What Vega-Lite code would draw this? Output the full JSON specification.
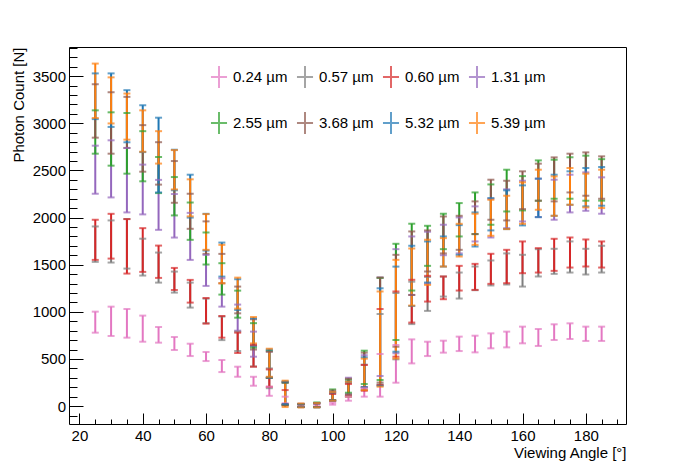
{
  "$schema": "https://vega.github.io/schema/vega-lite/v6.json",
  "width": 557,
  "height": 377,
  "autosize": {"type": "none"},
  "padding": {"left": 69, "top": 47, "right": 70, "bottom": 48},
  "background": "white",
  "config": {
    "view": {"stroke": "black", "strokeWidth": 1},
    "font": "Liberation Sans",
    "axis": {"grid": false, "domain": false, "tickColor": "black", "labelColor": "black", "titleColor": "black", "labelFont": "Liberation Sans", "titleFont": "Liberation Sans", "titleFontWeight": "normal", "tickWidth": 1}
  },
  "data": {
    "values": [
      {"a":25,"s":"0.24 µm","lo":779,"hi":1002},{"a":30,"s":"0.24 µm","lo":744,"hi":1055},{"a":35,"s":"0.24 µm","lo":726,"hi":1030},{"a":40,"s":"0.24 µm","lo":683,"hi":960},{"a":45,"s":"0.24 µm","lo":673,"hi":839},{"a":50,"s":"0.24 µm","lo":595,"hi":733},{"a":55,"s":"0.24 µm","lo":531,"hi":662},{"a":60,"s":"0.24 µm","lo":478,"hi":574},{"a":65,"s":"0.24 µm","lo":361,"hi":489},{"a":70,"s":"0.24 µm","lo":311,"hi":418},{"a":75,"s":"0.24 µm","lo":216,"hi":311},{"a":80,"s":"0.24 µm","lo":109,"hi":205},{"a":85,"s":"0.24 µm","lo":30,"hi":100},{"a":90,"s":"0.24 µm","lo":-5,"hi":10},{"a":95,"s":"0.24 µm","lo":-5,"hi":15},{"a":100,"s":"0.24 µm","lo":15,"hi":35},{"a":105,"s":"0.24 µm","lo":57,"hi":100},{"a":110,"s":"0.24 µm","lo":100,"hi":190},{"a":115,"s":"0.24 µm","lo":100,"hi":553},{"a":120,"s":"0.24 µm","lo":248,"hi":648},{"a":125,"s":"0.24 µm","lo":453,"hi":708},{"a":130,"s":"0.24 µm","lo":531,"hi":683},{"a":135,"s":"0.24 µm","lo":567,"hi":694},{"a":140,"s":"0.24 µm","lo":584,"hi":737},{"a":145,"s":"0.24 µm","lo":570,"hi":747},{"a":150,"s":"0.24 µm","lo":613,"hi":772},{"a":155,"s":"0.24 µm","lo":623,"hi":790},{"a":160,"s":"0.24 µm","lo":666,"hi":843},{"a":165,"s":"0.24 µm","lo":638,"hi":818},{"a":170,"s":"0.24 µm","lo":701,"hi":868},{"a":175,"s":"0.24 µm","lo":712,"hi":878},{"a":180,"s":"0.24 µm","lo":691,"hi":843},{"a":185,"s":"0.24 µm","lo":691,"hi":843},

      {"a":25,"s":"0.57 µm","lo":1530,"hi":1906},{"a":30,"s":"0.57 µm","lo":1523,"hi":1970},{"a":35,"s":"0.57 µm","lo":1459,"hi":1985},{"a":40,"s":"0.57 µm","lo":1385,"hi":1776},{"a":45,"s":"0.57 µm","lo":1310,"hi":1629},{"a":50,"s":"0.57 µm","lo":1204,"hi":1427},{"a":55,"s":"0.57 µm","lo":1045,"hi":1310},{"a":60,"s":"0.57 µm","lo":880,"hi":1140},{"a":65,"s":"0.57 µm","lo":700,"hi":950},{"a":70,"s":"0.57 µm","lo":584,"hi":790},{"a":75,"s":"0.57 µm","lo":420,"hi":640},{"a":80,"s":"0.57 µm","lo":190,"hi":400},{"a":85,"s":"0.57 µm","lo":10,"hi":259},{"a":90,"s":"0.57 µm","lo":-10,"hi":20},{"a":95,"s":"0.57 µm","lo":-10,"hi":30},{"a":100,"s":"0.57 µm","lo":60,"hi":135},{"a":105,"s":"0.57 µm","lo":110,"hi":245},{"a":110,"s":"0.57 µm","lo":170,"hi":440},{"a":115,"s":"0.57 µm","lo":230,"hi":977},{"a":120,"s":"0.57 µm","lo":496,"hi":1200},{"a":125,"s":"0.57 µm","lo":870,"hi":1320},{"a":130,"s":"0.57 µm","lo":1010,"hi":1370},{"a":135,"s":"0.57 µm","lo":1162,"hi":1375},{"a":140,"s":"0.57 µm","lo":1141,"hi":1417},{"a":145,"s":"0.57 µm","lo":1230,"hi":1481},{"a":150,"s":"0.57 µm","lo":1280,"hi":1545},{"a":155,"s":"0.57 µm","lo":1290,"hi":1620},{"a":160,"s":"0.57 µm","lo":1268,"hi":1605},{"a":165,"s":"0.57 µm","lo":1375,"hi":1665},{"a":170,"s":"0.57 µm","lo":1403,"hi":1669},{"a":175,"s":"0.57 µm","lo":1417,"hi":1747},{"a":180,"s":"0.57 µm","lo":1396,"hi":1669},{"a":185,"s":"0.57 µm","lo":1417,"hi":1701},

      {"a":25,"s":"0.60 µm","lo":1551,"hi":1977},{"a":30,"s":"0.60 µm","lo":1565,"hi":2040},{"a":35,"s":"0.60 µm","lo":1406,"hi":1984},{"a":40,"s":"0.60 µm","lo":1424,"hi":1888},{"a":45,"s":"0.60 µm","lo":1360,"hi":1703},{"a":50,"s":"0.60 µm","lo":1232,"hi":1466},{"a":55,"s":"0.60 µm","lo":1098,"hi":1339},{"a":60,"s":"0.60 µm","lo":875,"hi":1147},{"a":65,"s":"0.60 µm","lo":726,"hi":956},{"a":70,"s":"0.60 µm","lo":563,"hi":779},{"a":75,"s":"0.60 µm","lo":418,"hi":650},{"a":80,"s":"0.60 µm","lo":205,"hi":389},{"a":85,"s":"0.60 µm","lo":20,"hi":170},{"a":90,"s":"0.60 µm","lo":-10,"hi":20},{"a":95,"s":"0.60 µm","lo":-10,"hi":30},{"a":100,"s":"0.60 µm","lo":60,"hi":128},{"a":105,"s":"0.60 µm","lo":110,"hi":234},{"a":110,"s":"0.60 µm","lo":163,"hi":436},{"a":115,"s":"0.60 µm","lo":223,"hi":1030},{"a":120,"s":"0.60 µm","lo":524,"hi":1216},{"a":125,"s":"0.60 µm","lo":886,"hi":1340},{"a":130,"s":"0.60 µm","lo":1109,"hi":1382},{"a":135,"s":"0.60 µm","lo":1134,"hi":1375},{"a":140,"s":"0.60 µm","lo":1226,"hi":1488},{"a":145,"s":"0.60 µm","lo":1233,"hi":1509},{"a":150,"s":"0.60 µm","lo":1297,"hi":1616},{"a":155,"s":"0.60 µm","lo":1304,"hi":1658},{"a":160,"s":"0.60 µm","lo":1410,"hi":1747},{"a":165,"s":"0.60 µm","lo":1417,"hi":1676},{"a":170,"s":"0.60 µm","lo":1435,"hi":1775},{"a":175,"s":"0.60 µm","lo":1470,"hi":1789},{"a":180,"s":"0.60 µm","lo":1481,"hi":1768},{"a":185,"s":"0.60 µm","lo":1470,"hi":1747},

      {"a":25,"s":"1.31 µm","lo":2253,"hi":2763},{"a":30,"s":"1.31 µm","lo":2214,"hi":2820},{"a":35,"s":"1.31 µm","lo":2055,"hi":2739},{"a":40,"s":"1.31 µm","lo":2034,"hi":2562},{"a":45,"s":"1.31 µm","lo":1870,"hi":2400},{"a":50,"s":"1.31 µm","lo":1788,"hi":2250},{"a":55,"s":"1.31 µm","lo":1551,"hi":2050},{"a":60,"s":"1.31 µm","lo":1275,"hi":1604},{"a":65,"s":"1.31 µm","lo":1055,"hi":1356},{"a":70,"s":"1.31 µm","lo":800,"hi":1077},{"a":75,"s":"1.31 µm","lo":524,"hi":790},{"a":80,"s":"1.31 µm","lo":300,"hi":580},{"a":85,"s":"1.31 µm","lo":10,"hi":250},{"a":90,"s":"1.31 µm","lo":-10,"hi":25},{"a":95,"s":"1.31 µm","lo":-10,"hi":30},{"a":100,"s":"1.31 µm","lo":60,"hi":150},{"a":105,"s":"1.31 µm","lo":130,"hi":301},{"a":110,"s":"1.31 µm","lo":200,"hi":540},{"a":115,"s":"1.31 µm","lo":319,"hi":1364},{"a":120,"s":"1.31 µm","lo":560,"hi":1665},{"a":125,"s":"1.31 µm","lo":1180,"hi":1800},{"a":130,"s":"1.31 µm","lo":1300,"hi":1850},{"a":135,"s":"1.31 µm","lo":1601,"hi":1924},{"a":140,"s":"1.31 µm","lo":1620,"hi":2002},{"a":145,"s":"1.31 µm","lo":1747,"hi":2119},{"a":150,"s":"1.31 µm","lo":1789,"hi":2200},{"a":155,"s":"1.31 µm","lo":1888,"hi":2300},{"a":160,"s":"1.31 µm","lo":1959,"hi":2391},{"a":165,"s":"1.31 µm","lo":2005,"hi":2413},{"a":170,"s":"1.31 µm","lo":1977,"hi":2402},{"a":175,"s":"1.31 µm","lo":2055,"hi":2455},{"a":180,"s":"1.31 µm","lo":2072,"hi":2480},{"a":185,"s":"1.31 µm","lo":2041,"hi":2427},

      {"a":25,"s":"2.55 µm","lo":2678,"hi":3138},{"a":30,"s":"2.55 µm","lo":2551,"hi":3117},{"a":35,"s":"2.55 µm","lo":2466,"hi":3110},{"a":40,"s":"2.55 µm","lo":2385,"hi":2917},{"a":45,"s":"2.55 µm","lo":2260,"hi":2643},{"a":50,"s":"2.55 µm","lo":2023,"hi":2430},{"a":55,"s":"2.55 µm","lo":1764,"hi":2160},{"a":60,"s":"2.55 µm","lo":1502,"hi":1842},{"a":65,"s":"2.55 µm","lo":1183,"hi":1516},{"a":70,"s":"2.55 µm","lo":938,"hi":1225},{"a":75,"s":"2.55 µm","lo":620,"hi":880},{"a":80,"s":"2.55 µm","lo":300,"hi":588},{"a":85,"s":"2.55 µm","lo":10,"hi":248},{"a":90,"s":"2.55 µm","lo":-10,"hi":20},{"a":95,"s":"2.55 µm","lo":-10,"hi":39},{"a":100,"s":"2.55 µm","lo":60,"hi":177},{"a":105,"s":"2.55 µm","lo":142,"hi":280},{"a":110,"s":"2.55 µm","lo":234,"hi":588},{"a":115,"s":"2.55 µm","lo":277,"hi":1360},{"a":120,"s":"2.55 µm","lo":701,"hi":1722},{"a":125,"s":"2.55 µm","lo":1226,"hi":1935},{"a":130,"s":"2.55 µm","lo":1488,"hi":1913},{"a":135,"s":"2.55 µm","lo":1665,"hi":2041},{"a":140,"s":"2.55 µm","lo":1800,"hi":2154},{"a":145,"s":"2.55 µm","lo":1825,"hi":2267},{"a":150,"s":"2.55 µm","lo":1924,"hi":2352},{"a":155,"s":"2.55 µm","lo":2065,"hi":2508},{"a":160,"s":"2.55 µm","lo":2076,"hi":2440},{"a":165,"s":"2.55 µm","lo":2179,"hi":2607},{"a":170,"s":"2.55 µm","lo":2200,"hi":2614},{"a":175,"s":"2.55 µm","lo":2200,"hi":2640},{"a":180,"s":"2.55 µm","lo":2179,"hi":2657},{"a":185,"s":"2.55 µm","lo":2180,"hi":2620},

      {"a":25,"s":"3.68 µm","lo":2848,"hi":3415},{"a":30,"s":"3.68 µm","lo":2678,"hi":3330},{"a":35,"s":"3.68 µm","lo":2739,"hi":3281},{"a":40,"s":"3.68 µm","lo":2487,"hi":2981},{"a":45,"s":"3.68 µm","lo":2350,"hi":2800},{"a":50,"s":"3.68 µm","lo":2157,"hi":2600},{"a":55,"s":"3.68 µm","lo":1881,"hi":2253},{"a":60,"s":"3.68 µm","lo":1615,"hi":1960},{"a":65,"s":"3.68 µm","lo":1303,"hi":1615},{"a":70,"s":"3.68 µm","lo":984,"hi":1268},{"a":75,"s":"3.68 µm","lo":600,"hi":921},{"a":80,"s":"3.68 µm","lo":300,"hi":577},{"a":85,"s":"3.68 µm","lo":10,"hi":250},{"a":90,"s":"3.68 µm","lo":-10,"hi":20},{"a":95,"s":"3.68 µm","lo":-10,"hi":30},{"a":100,"s":"3.68 µm","lo":60,"hi":165},{"a":105,"s":"3.68 µm","lo":120,"hi":290},{"a":110,"s":"3.68 µm","lo":199,"hi":567},{"a":115,"s":"3.68 µm","lo":250,"hi":1364},{"a":120,"s":"3.68 µm","lo":630,"hi":1605},{"a":125,"s":"3.68 µm","lo":1179,"hi":1853},{"a":130,"s":"3.68 µm","lo":1428,"hi":1864},{"a":135,"s":"3.68 µm","lo":1620,"hi":2012},{"a":140,"s":"3.68 µm","lo":1658,"hi":2019},{"a":145,"s":"3.68 µm","lo":1825,"hi":2172},{"a":150,"s":"3.68 µm","lo":1977,"hi":2402},{"a":155,"s":"3.68 µm","lo":1970,"hi":2391},{"a":160,"s":"3.68 µm","lo":2090,"hi":2491},{"a":165,"s":"3.68 µm","lo":2179,"hi":2572},{"a":170,"s":"3.68 µm","lo":2172,"hi":2639},{"a":175,"s":"3.68 µm","lo":2267,"hi":2678},{"a":180,"s":"3.68 µm","lo":2232,"hi":2692},{"a":185,"s":"3.68 µm","lo":2200,"hi":2650},

      {"a":25,"s":"5.32 µm","lo":3045,"hi":3530},{"a":30,"s":"5.32 µm","lo":2962,"hi":3530},{"a":35,"s":"5.32 µm","lo":2799,"hi":3352},{"a":40,"s":"5.32 µm","lo":2695,"hi":3192},{"a":45,"s":"5.32 µm","lo":2267,"hi":3060},{"a":50,"s":"5.32 µm","lo":2290,"hi":2720},{"a":55,"s":"5.32 µm","lo":2000,"hi":2455},{"a":60,"s":"5.32 µm","lo":1650,"hi":2040},{"a":65,"s":"5.32 µm","lo":1374,"hi":1735},{"a":70,"s":"5.32 µm","lo":1020,"hi":1346},{"a":75,"s":"5.32 µm","lo":637,"hi":930},{"a":80,"s":"5.32 µm","lo":304,"hi":600},{"a":85,"s":"5.32 µm","lo":22,"hi":260},{"a":90,"s":"5.32 µm","lo":-10,"hi":20},{"a":95,"s":"5.32 µm","lo":-14,"hi":30},{"a":100,"s":"5.32 µm","lo":57,"hi":145},{"a":105,"s":"5.32 µm","lo":100,"hi":260},{"a":110,"s":"5.32 µm","lo":200,"hi":518},{"a":115,"s":"5.32 µm","lo":215,"hi":1250},{"a":120,"s":"5.32 µm","lo":577,"hi":1480},{"a":125,"s":"5.32 µm","lo":1062,"hi":1701},{"a":130,"s":"5.32 µm","lo":1311,"hi":1747},{"a":135,"s":"5.32 µm","lo":1480,"hi":1800},{"a":140,"s":"5.32 µm","lo":1605,"hi":1920},{"a":145,"s":"5.32 µm","lo":1693,"hi":2055},{"a":150,"s":"5.32 µm","lo":1864,"hi":2207},{"a":155,"s":"5.32 µm","lo":1878,"hi":2289},{"a":160,"s":"5.32 µm","lo":1917,"hi":2342},{"a":165,"s":"5.32 µm","lo":2005,"hi":2413},{"a":170,"s":"5.32 µm","lo":2019,"hi":2455},{"a":175,"s":"5.32 µm","lo":2136,"hi":2491},{"a":180,"s":"5.32 µm","lo":2119,"hi":2526},{"a":185,"s":"5.32 µm","lo":2126,"hi":2537},

      {"a":25,"s":"5.39 µm","lo":3057,"hi":3634},{"a":30,"s":"5.39 µm","lo":2999,"hi":3488},{"a":35,"s":"5.39 µm","lo":2827,"hi":3316},{"a":40,"s":"5.39 µm","lo":2699,"hi":3138},{"a":45,"s":"5.39 µm","lo":2573,"hi":2917},{"a":50,"s":"5.39 µm","lo":2299,"hi":2716},{"a":55,"s":"5.39 µm","lo":2013,"hi":2406},{"a":60,"s":"5.39 µm","lo":1658,"hi":2037},{"a":65,"s":"5.39 µm","lo":1303,"hi":1711},{"a":70,"s":"5.39 µm","lo":1034,"hi":1363},{"a":75,"s":"5.39 µm","lo":665,"hi":945},{"a":80,"s":"5.39 µm","lo":311,"hi":609},{"a":85,"s":"5.39 µm","lo":-10,"hi":270},{"a":90,"s":"5.39 µm","lo":-14,"hi":28},{"a":95,"s":"5.39 µm","lo":-14,"hi":32},{"a":100,"s":"5.39 µm","lo":57,"hi":149},{"a":105,"s":"5.39 µm","lo":100,"hi":259},{"a":110,"s":"5.39 µm","lo":170,"hi":503},{"a":115,"s":"5.39 µm","lo":206,"hi":1216},{"a":120,"s":"5.39 µm","lo":506,"hi":1552},{"a":125,"s":"5.39 µm","lo":1067,"hi":1672},{"a":130,"s":"5.39 µm","lo":1286,"hi":1765},{"a":135,"s":"5.39 µm","lo":1481,"hi":1782},{"a":140,"s":"5.39 µm","lo":1587,"hi":1934},{"a":145,"s":"5.39 µm","lo":1711,"hi":2041},{"a":150,"s":"5.39 µm","lo":1807,"hi":2189},{"a":155,"s":"5.39 µm","lo":1878,"hi":2232},{"a":160,"s":"5.39 µm","lo":1934,"hi":2374},{"a":165,"s":"5.39 µm","lo":2083,"hi":2508},{"a":170,"s":"5.39 µm","lo":2019,"hi":2437},{"a":175,"s":"5.39 µm","lo":2136,"hi":2526},{"a":180,"s":"5.39 µm","lo":2108,"hi":2466},{"a":185,"s":"5.39 µm","lo":2101,"hi":2508}
    ]
  },
  "layer": [
    {
      "mark": {"type": "rule", "strokeWidth": 2},
      "encoding": {
        "x": {
          "field": "a", "type": "quantitative",
          "scale": {"domain": [16.7, 192.7], "nice": false, "zero": false},
          "axis": {"values": [20, 40, 60, 80, 100, 120, 140, 160, 180], "format": "d", "tickSize": -11, "labelPadding": 15, "labelFontSize": 15, "title": "Viewing Angle [°]", "titleFontSize": 15, "titleX": 557, "titleY": 33, "titleAlign": "right", "titleBaseline": "alphabetic", "titleAnchor": null}
        },
        "y": {
          "field": "lo", "type": "quantitative",
          "scale": {"domain": [-190, 3810], "nice": false, "zero": false},
          "axis": {"values": [0, 500, 1000, 1500, 2000, 2500, 3000, 3500], "format": "d", "tickSize": -14, "labelPadding": 17.5, "labelFontSize": 15, "title": "Photon Count [N]", "titleFontSize": 15, "titleX": -51, "titleY": 0, "titleAngle": -90, "titleAlign": "right", "titleBaseline": "middle", "titleAnchor": null}
        },
        "y2": {"field": "hi"},
        "color": {
          "field": "s", "type": "nominal",
          "scale": {
            "domain": ["0.24 µm", "0.57 µm", "0.60 µm", "1.31 µm", "2.55 µm", "3.68 µm", "5.32 µm", "5.39 µm"],
            "range": ["#e377c2", "#7f7f7f", "#d62728", "#9467bd", "#2ca02c", "#8c564b", "#1f77b4", "#ff7f0e"]
          },
          "legend": {
            "orient": "none", "legendX": 138, "legendY": 18, "columns": 4, "direction": "horizontal",
            "title": null, "padding": 0,
            "symbolType": "M-0.73,0H0.73M0,-1V1", "symbolSize": 484, "symbolStrokeWidth": 2, "symbolFillColor": "transparent",
            "labelFontSize": 15, "labelFont": "Liberation Sans", "labelColor": "black", "labelOffset": 2, "labelLimit": 200,
            "columnPadding": 4, "rowPadding": 16
          }
        }
      }
    },
    {
      "mark": {"type": "tick", "orient": "horizontal", "thickness": 2, "size": 7},
      "encoding": {
        "x": {"field": "a", "type": "quantitative", "axis": null},
        "y": {"field": "lo", "type": "quantitative", "axis": null},
        "color": {"field": "s", "type": "nominal"}
      }
    },
    {
      "mark": {"type": "tick", "orient": "horizontal", "thickness": 2, "size": 7},
      "encoding": {
        "x": {"field": "a", "type": "quantitative", "axis": null},
        "y": {"field": "hi", "type": "quantitative", "axis": null},
        "color": {"field": "s", "type": "nominal"}
      }
    },
    {
      "mark": {"type": "rule", "opacity": 0},
      "encoding": {
        "x": {
          "field": "a", "type": "quantitative",
          "axis": {"orient": "bottom", "values": [20, 25, 30, 35, 40, 45, 50, 55, 60, 65, 70, 75, 80, 85, 90, 95, 100, 105, 110, 115, 120, 125, 130, 135, 140, 145, 150, 155, 160, 165, 170, 175, 180, 185, 190], "tickSize": -5, "labels": false, "title": null}
        },
        "y": {
          "field": "lo", "type": "quantitative",
          "axis": {"orient": "left", "values": [-100, 0, 100, 200, 300, 400, 500, 600, 700, 800, 900, 1000, 1100, 1200, 1300, 1400, 1500, 1600, 1700, 1800, 1900, 2000, 2100, 2200, 2300, 2400, 2500, 2600, 2700, 2800, 2900, 3000, 3100, 3200, 3300, 3400, 3500, 3600, 3700, 3800], "tickSize": -8, "labels": false, "title": null}
        }
      }
    }
  ],
  "resolve": {"axis": {"x": "independent", "y": "independent"}}
}
